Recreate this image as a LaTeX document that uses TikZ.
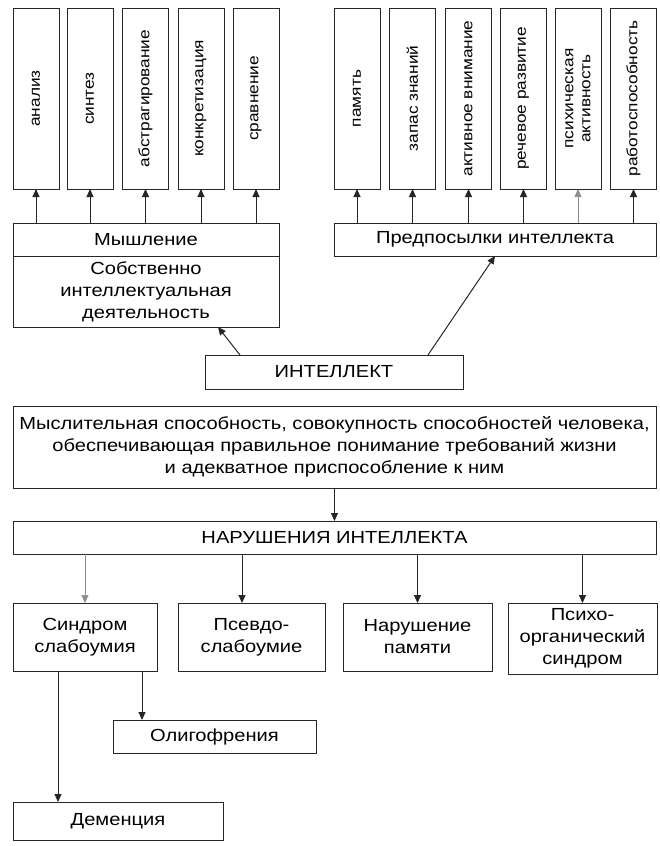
\documentclass[tikz,border=0pt]{standalone}
\usepackage{fontspec}
\setmainfont[FakeStretch=1.15]{Liberation Sans}
\usetikzlibrary{arrows.meta}
\usetikzlibrary{positioning}
\tikzstyle{rect} = [rectangle,
draw=black!85,
line width=1pt,
outer sep=0pt,
inner sep=2pt,
text centered,
align=center,
font=\fontsize{17.5}{22}\selectfont]
\tikzstyle{vbox} = [rect,
rotate=90,
minimum width=181pt,
minimum height=46pt,
font=\fontsize{15}{17}\selectfont]
\tikzstyle{arrow} = [line width=1pt, draw=black!85, -{Triangle[length=8pt,width=7pt]}]
\tikzstyle{thinarrow} = [arrow, line width=0.6pt, draw=black!45]

\begin{document}
\begin{tikzpicture}[x=1pt,y=-1pt]
\useasboundingbox [fill=white] (0,0) rectangle (660,846);

% operations of thinking
\node (analiz) [vbox] at (36,98.5) {анализ};
\node (sintez) [vbox] at (90,98.5) {синтез};
\node (abstr) [vbox] at (145.5,98.5) {абстрагирование};
\node (konkr) [vbox] at (201,98.5) {конкретизация};
\node (sravn) [vbox] at (256,98.5) {сравнение};

% prerequisites
\node (pamyat) [vbox] at (357,98.5) {память};
\node (zapas) [vbox] at (412.5,98.5) {запас знаний};
\node (vniman) [vbox] at (468.5,98.5) {активное внимание};
\node (rech) [vbox] at (523.5,98.5) {речевое развитие};
\node (psych) [vbox] at (578,98.5) {психическая\\активность};
\node (rabot) [vbox] at (633.5,98.5) {работоспособность};

\node (myshl) [rect, minimum width=266pt, minimum height=33pt] at (146,239.5) {Мышление};
\node (sobstv) [rect, minimum width=266pt, minimum height=71pt, below=0pt of myshl] {
  Собственно\\интеллектуальная\\деятельность
};
\node (predp) [rect, minimum width=322pt, minimum height=33pt] at (495,239.5) {Предпосылки интеллекта};

\node (intel) [rect, minimum width=258pt, minimum height=34pt] at (334,372) {ИНТЕЛЛЕКТ};

\node (opred) [rect, minimum width=643pt, minimum height=82pt] at (334.5,447) {
  Мыслительная способность, совокупность способностей человека,\\
  обеспечивающая правильное понимание требований жизни\\
  и адекватное приспособление к ним
};

\node (narush) [rect, minimum width=643pt, minimum height=33pt] at (334.5,537.5) {НАРУШЕНИЯ ИНТЕЛЛЕКТА};

\node (sindr) [rect, minimum width=144pt, minimum height=68pt] at (85,637) {Синдром\\слабоумия};
\node (psevdo) [rect, minimum width=147pt, minimum height=68pt] at (251.5,637) {Псевдо-\\слабоумие};
\node (pamnar) [rect, minimum width=149pt, minimum height=68pt] at (417.5,637) {Нарушение\\памяти};
\node (psorg) [rect, minimum width=149pt, minimum height=71pt] at (582.5,638.5) {Психо-\\органический\\синдром};

\node (oligo) [rect, minimum width=203pt, minimum height=33pt] at (214.5,736.5) {Олигофрения};
\node (demen) [rect, minimum width=210pt, minimum height=38pt] at (118,821) {Деменция};

% arrows
\draw [arrow] (myshl.north -| analiz) -- (analiz);
\draw [arrow] (myshl.north -| sintez) -- (sintez);
\draw [arrow] (myshl.north -| abstr) -- (abstr);
\draw [arrow] (myshl.north -| konkr) -- (konkr);
\draw [arrow] (myshl.north -| sravn) -- (sravn);

\draw [arrow] (predp.north -| pamyat) -- (pamyat);
\draw [arrow] (predp.north -| zapas) -- (zapas);
\draw [arrow] (predp.north -| vniman) -- (vniman);
\draw [arrow] (predp.north -| rech) -- (rech);
\draw [thinarrow] (predp.north -| psych) -- (psych);
\draw [arrow] (predp.north -| rabot) -- (rabot);

\draw [arrow] ([xshift=-94pt]intel.north) -- ([xshift=72pt]sobstv.south);
\draw [arrow] ([xshift=94pt]intel.north) -- (predp.south);

\draw [arrow] (opred) -- (narush);

\draw [thinarrow] (narush.south -| sindr) -- (sindr);
\draw [arrow] ([xshift=-9.5pt]psevdo.north |- narush.south) -- ([xshift=-9.5pt]psevdo.north);
\draw [arrow] (narush.south -| pamnar) -- (pamnar);
\draw [arrow] (narush.south -| psorg) -- (psorg);

\draw [arrow] ([xshift=-27pt]sindr.south) -- ([xshift=-27pt]sindr.south |- demen.north);
\draw [arrow] ([xshift=57pt]sindr.south) -- ([xshift=57pt]sindr.south |- oligo.north);

\end{tikzpicture}
\end{document}
